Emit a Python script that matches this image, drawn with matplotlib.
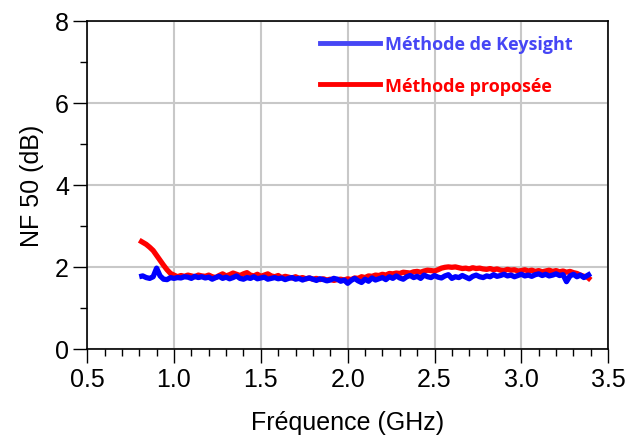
import matplotlib
matplotlib.use('Agg')
import matplotlib.pyplot as plt
from matplotlib.lines import Line2D
from matplotlib.ticker import MultipleLocator, FormatStrFormatter

matplotlib.rc('font', family='Liberation Sans', size=18)

# frequency sweep (GHz)
freq = [0.80, 0.82, 0.84, 0.86, 0.88, 0.90, 0.92, 0.94, 0.96, 0.98,
        1.00, 1.02, 1.04, 1.06, 1.08, 1.10, 1.12, 1.14, 1.16, 1.18,
        1.20, 1.22, 1.24, 1.26, 1.28, 1.30, 1.32, 1.34, 1.36, 1.38,
        1.40, 1.42, 1.44, 1.46, 1.48, 1.50, 1.52, 1.54, 1.56, 1.58,
        1.60, 1.62, 1.64, 1.66, 1.68, 1.70, 1.72, 1.74, 1.76, 1.78,
        1.80, 1.82, 1.84, 1.86, 1.88, 1.90, 1.92, 1.94, 1.96, 1.98,
        2.00, 2.02, 2.04, 2.06, 2.08, 2.10, 2.12, 2.14, 2.16, 2.18,
        2.20, 2.22, 2.24, 2.26, 2.28, 2.30, 2.32, 2.34, 2.36, 2.38,
        2.40, 2.42, 2.44, 2.46, 2.48, 2.50, 2.52, 2.54, 2.56, 2.58,
        2.60, 2.62, 2.64, 2.66, 2.68, 2.70, 2.72, 2.74, 2.76, 2.78,
        2.80, 2.82, 2.84, 2.86, 2.88, 2.90, 2.92, 2.94, 2.96, 2.98,
        3.00, 3.02, 3.04, 3.06, 3.08, 3.10, 3.12, 3.14, 3.16, 3.18,
        3.20, 3.22, 3.24, 3.26, 3.28, 3.30, 3.32, 3.34, 3.36, 3.38,
        3.40]

# NF50 - Keysight method (dB)
nf_keysight = [1.76, 1.78, 1.74, 1.72, 1.76, 1.97, 1.78, 1.70, 1.69, 1.74,
               1.72, 1.74, 1.73, 1.76, 1.75, 1.72, 1.77, 1.74, 1.76, 1.73,
               1.75, 1.70, 1.74, 1.77, 1.72, 1.75, 1.71, 1.74, 1.78, 1.72,
               1.70, 1.74, 1.72, 1.76, 1.71, 1.73, 1.75, 1.70, 1.72, 1.74,
               1.71, 1.73, 1.69, 1.72, 1.74, 1.70, 1.72, 1.68, 1.71, 1.73,
               1.70, 1.67, 1.71, 1.69, 1.66, 1.68, 1.72, 1.70, 1.65, 1.68,
               1.60, 1.67, 1.72, 1.66, 1.62, 1.70, 1.65, 1.73, 1.68, 1.71,
               1.74, 1.69, 1.76, 1.72, 1.78, 1.73, 1.70, 1.76, 1.79, 1.74,
               1.77, 1.72, 1.80, 1.76, 1.74, 1.79, 1.75, 1.73, 1.78, 1.81,
               1.72, 1.76, 1.74, 1.79, 1.75, 1.71, 1.77, 1.80, 1.76, 1.74,
               1.78, 1.76, 1.81, 1.77, 1.79, 1.82, 1.78, 1.80, 1.76, 1.79,
               1.82, 1.78, 1.80, 1.77, 1.81, 1.83, 1.79, 1.82, 1.78, 1.80,
               1.83, 1.79, 1.81, 1.64, 1.78, 1.82, 1.76, 1.80, 1.74, 1.79,
               1.84]

# NF50 - proposed method (dB)
nf_proposed = [2.65, 2.60, 2.55, 2.48, 2.40, 2.28, 2.16, 2.04, 1.93, 1.84,
               1.80, 1.76, 1.79, 1.77, 1.80, 1.78, 1.76, 1.80, 1.78, 1.77,
               1.80, 1.76, 1.74, 1.79, 1.83, 1.78, 1.81, 1.85, 1.82, 1.79,
               1.83, 1.86, 1.80, 1.78, 1.82, 1.77, 1.80, 1.83, 1.78, 1.76,
               1.79, 1.74, 1.77, 1.75, 1.73, 1.76, 1.72, 1.74, 1.71, 1.73,
               1.70, 1.72, 1.69, 1.71, 1.68, 1.70, 1.67, 1.69, 1.70, 1.68,
               1.71, 1.69, 1.73, 1.72, 1.76, 1.74, 1.78, 1.77, 1.80, 1.79,
               1.82, 1.80, 1.84, 1.83, 1.85, 1.84, 1.87, 1.86, 1.85, 1.88,
               1.89, 1.87, 1.90, 1.92, 1.91, 1.90, 1.93, 1.97, 1.99, 2.00,
               1.99, 2.00, 1.98, 1.96, 1.97, 1.95, 1.98, 1.96, 1.97, 1.95,
               1.94, 1.96, 1.93, 1.95, 1.92, 1.91, 1.94, 1.92, 1.93, 1.90,
               1.91, 1.93, 1.90, 1.92, 1.89, 1.91, 1.88, 1.90, 1.92, 1.89,
               1.91, 1.88, 1.90, 1.87, 1.89, 1.86, 1.84, 1.80, 1.77, 1.75,
               1.68]

fig = plt.figure(figsize=(6.27, 4.39), dpi=100)
ax = fig.add_axes([0.139, 0.203, 0.831, 0.747])

ax.plot(freq, nf_proposed, c='#ff0000', lw=3.8, solid_capstyle='butt', zorder=3)
ax.plot(freq, nf_keysight, c='#0000ff', lw=3.8, solid_capstyle='butt', zorder=4)

ax.set_xlim(0.5, 3.5)
ax.set_ylim(0, 8)
ax.xaxis.set_major_locator(MultipleLocator(0.5))
ax.xaxis.set_minor_locator(MultipleLocator(0.1))
ax.yaxis.set_major_locator(MultipleLocator(2))
ax.yaxis.set_minor_locator(MultipleLocator(1))
ax.xaxis.set_major_formatter(FormatStrFormatter('%.1f'))

ax.tick_params(which='major', direction='out', length=10, width=1, pad=3)
ax.tick_params(which='minor', direction='out', length=5, width=1)
ax.grid(True, which='major', color='#c8c8c8', lw=1.5, zorder=0)
for s in ax.spines.values():
    s.set_linewidth(1.2)

ax.set_xlabel('Fréquence (GHz)', labelpad=14)
ax.set_ylabel('NF 50 (dB)', labelpad=8)

handles = [Line2D([], [], c='#4646f5', lw=3.5), Line2D([], [], c='#ff0000', lw=3.5)]
leg = ax.legend(handles, ['Méthode de Keysight', 'Méthode proposée'], loc='upper left',
                bbox_to_anchor=(0.447, 0.957), frameon=False, borderaxespad=0, borderpad=0,
                handlelength=3.3, handletextpad=0.3, labelspacing=1.3,
                prop={'family': 'Open Sans', 'weight': 'bold', 'size': 13})
leg.get_texts()[0].set_color('#4646f5')
leg.get_texts()[1].set_color('#ff0000')

fig.savefig('out.png', dpi=100)
